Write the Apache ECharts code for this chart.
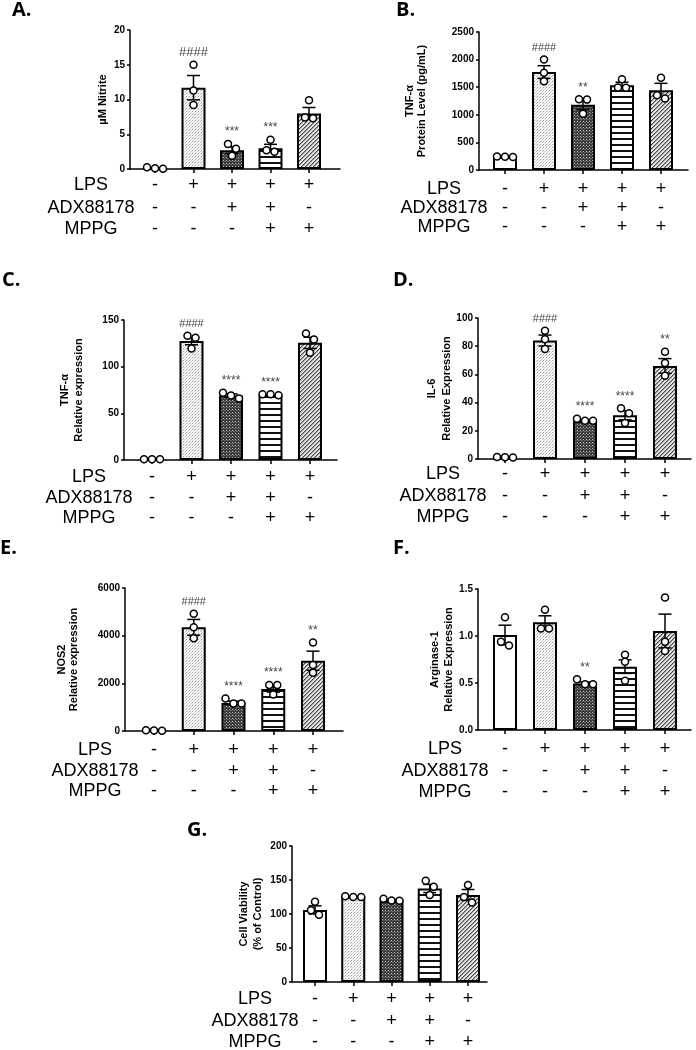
<!DOCTYPE html>
<html><head><meta charset="utf-8">
<script src="https://cdn.jsdelivr.net/npm/echarts@6/dist/echarts.min.js"></script>
<style>html,body{margin:0;padding:0;background:#fff}#c{width:696px;height:1050px}</style>
</head><body><div id="c"></div>
<script>
// ---------- DATA ----------
const rowNames = ['LPS', 'ADX88178', 'MPPG'];
const lpsRow  = ['-', '+', '+', '+', '+'];
const adxRow  = ['-', '-', '+', '+', '-'];
const mppgRow = ['-', '-', '-', '+', '+'];

const panelLabels = ['A.', 'B.', 'C.', 'D.', 'E.', 'F.', 'G.'];
const yNames = ['\u00b5M Nitrite', 'TNF-\u03b1\nProtein Level (pg/mL)', 'TNF-\u03b1\nRelative expression',
  'IL-6\nRelative Expression', 'NOS2\nRelative expression', 'Arginase-1\nRelative Expression',
  'Cell Viability\n(% of Control)'];

const aTicks = [0, 5, 10, 15, 20];
const aMeans = [0.1, 11.7, 2.7, 3.0, 8.0];
const aSem   = [0.05, 1.75, 0.5, 0.55, 0.85];
const aPts   = [[0.25, 0.1, 0.05], [15.0, 11.3, 9.2], [3.6, 2.9, 1.9], [4.2, 2.7, 2.5], [9.9, 7.3, 7.4]];
const aSig   = ['', '####', '***', '***', ''];

const bTicks = [0, 500, 1000, 1500, 2000, 2500];
const bMeans = [240, 1775, 1180, 1535, 1445];
const bSem   = [5, 115, 85, 55, 125];
const bPts   = [[245, 235, 240], [2000, 1760, 1610], [1280, 1275, 1020], [1645, 1495, 1490], [1670, 1355, 1295]];
const bSig   = ['', '####', '**', '', ''];

const cTicks = [0, 50, 100, 150];
const cMeans = [1, 127.5, 69, 69, 125.5];
const cSem   = [0.2, 4, 1.8, 0.5, 6];
const cPts   = [[0.8, 0.7, 0.9], [133, 131, 119.5], [72, 69, 66], [70.5, 69.5, 70.5], [135.5, 129, 115]];
const cSig   = ['', '####', '****', '****', ''];

const dTicks = [0, 20, 40, 60, 80, 100];
const dMeans = [1, 84, 27.2, 31, 66];
const dSem   = [0.2, 3.9, 0.4, 3.2, 5.2];
const dPts   = [[1.4, 1.0, 1.2], [91, 85, 78], [28.5, 27.2, 27.2], [36, 32.5, 25.5], [76, 68, 59]];
const dSig   = ['', '####', '****', '****', '**'];

const eTicks = [0, 2000, 4000, 6000];
const eMeans = [20, 4350, 1180, 1760, 2950];
const eSem   = [5, 330, 70, 130, 400];
const ePts   = [[30, 20, 10], [4920, 4350, 3890], [1360, 1150, 1150], [1925, 1925, 1530], [3710, 2770, 2445]];
const eSig   = ['', '####', '****', '****', '**'];

const fTicks = [0, 0.5, 1.0, 1.5];
const fMeans = [1.01, 1.145, 0.496, 0.674, 1.053];
const fSem   = [0.105, 0.07, 0.015, 0.072, 0.18];
const fPts   = [[1.2, 0.94, 0.9], [1.28, 1.08, 1.08], [0.54, 0.486, 0.486], [0.8, 0.727, 0.525], [1.41, 0.94, 0.84]];
const fSig   = ['', '', '**', '', ''];

const gTicks = [0, 50, 100, 150, 200];
const gMeans = [106, 125.5, 119.5, 137.5, 128];
const gSem   = [6, 0.5, 1.2, 6, 8];
const gPts   = [[118, 105.5, 99], [126, 125, 125], [122.5, 119.5, 120], [149, 140, 128], [142.5, 125, 117]];
const gSig   = ['', '', '', '', ''];

// ---------- LAYOUT (pixels) ----------
const layouts = [
  {ax:130, top:30,  zero:169, right:340, c0:155, c4:309, tl:[12,0],   gap:21, lh:12, labX:91,  rows:[16,39,60], hash:13},
  {ax:479, top:32,  zero:170, right:688, c0:505, c4:661, tl:[396,0],  gap:51, lh:12, labX:444, rows:[19,38,57], hash:11},
  {ax:124, top:320, zero:460, right:337, c0:152, c4:310, tl:[2,270],  gap:38, lh:14, labX:89,  rows:[17,38,58], hash:11},
  {ax:478, top:318, zero:459, right:691, c0:505, c4:665, tl:[393,270],gap:24, lh:15, labX:443, rows:[15,37,58], hash:11},
  {ax:125, top:588, zero:731, right:343, c0:154, c4:313, tl:[0,538],  gap:45, lh:12, labX:95,  rows:[19,40,60], hash:11},
  {ax:478, top:589, zero:730, right:691, c0:505, c4:665, tl:[393,538],gap:22, lh:14, labX:445, rows:[19,41,62], hash:11},
  {ax:292, top:846, zero:982, right:487, c0:315, c4:468, tl:[187,820],gap:27, lh:14, labX:255, rows:[17,39,60], hash:11}
];

const panels = [
  {means:aMeans, sem:aSem, pts:aPts, sig:aSig, ticks:aTicks},
  {means:bMeans, sem:bSem, pts:bPts, sig:bSig, ticks:bTicks},
  {means:cMeans, sem:cSem, pts:cPts, sig:cSig, ticks:cTicks},
  {means:dMeans, sem:dSem, pts:dPts, sig:dSig, ticks:dTicks},
  {means:eMeans, sem:eSem, pts:ePts, sig:eSig, ticks:eTicks},
  {means:fMeans, sem:fSem, pts:fPts, sig:fSig, ticks:fTicks, dec:1},
  {means:gMeans, sem:gSem, pts:gPts, sig:gSig, ticks:gTicks}
];

// ---------- PATTERNS ----------
function makePattern(w, h, draw) {
  const c = document.createElement('canvas'); c.width = w; c.height = h;
  const g = c.getContext('2d'); draw(g);
  return {image: c, repeat: 'repeat'};
}
function px(g, x, y, col) { g.fillStyle = col; g.fillRect(x, y, 1, 1); }
const fills = [
  '#ffffff',
  makePattern(3, 3, g => { g.fillStyle = '#fafafa'; g.fillRect(0,0,3,3); px(g,0,0,'#9a9a9a'); px(g,2,1,'#c4c4c4'); px(g,1,2,'#d8d8d8'); }),
  makePattern(3, 3, g => { g.fillStyle = '#3a3a3a'; g.fillRect(0,0,3,3); px(g,1,1,'#b8b8b8'); px(g,2,2,'#707070'); px(g,0,2,'#5a5a5a'); }),
  makePattern(1, 6, g => { g.fillStyle = '#ffffff'; g.fillRect(0,0,1,6); g.fillStyle = '#111'; g.fillRect(0,0,1,2); }),
  makePattern(4, 4, g => { g.fillStyle = '#e6e6e6'; g.fillRect(0,0,4,4);
    for (let k = 0; k < 4; k++) { px(g, k, 3-k, '#4a4a4a'); px(g, (k+1)%4, 3-k, '#9a9a9a'); } })
];

const FF = '"Liberation Sans", Arial, sans-serif';
const rowArrays = [lpsRow, adxRow, mppgRow];

const option = {animation:false, backgroundColor:'#fff', title:[], grid:[], xAxis:[], yAxis:[], series:[]};

panels.forEach((p, pi) => {
  const L = layouts[pi];
  const s = (L.c4 - L.c0) / 4;
  const xmin = -(L.c0 - L.ax) / s, xmax = 4 + (L.right - L.c4) / s;
  const t = p.ticks;

  option.title.push({text: panelLabels[pi], left: L.tl[0], top: L.tl[1], padding: 0,
    textStyle: {fontFamily: '"Open Sans", sans-serif', fontWeight: 'bold', fontSize: 20, color: '#000'}});

  // main plotting grid
  const gi = option.grid.length;
  option.grid.push({left: L.ax, top: L.top, width: L.right - L.ax, height: L.zero - L.top,
    containLabel: false, outerBoundsMode: 'none'});
  const xi = option.xAxis.length;
  option.xAxis.push({type:'value', gridIndex:gi, min:xmin, max:xmax, position:'bottom',
    axisLine:{show:true, onZero:false, lineStyle:{color:'#000', width:1.5}},
    axisTick:{show:true, customValues:[0,1,2,3,4], length:4, lineStyle:{color:'#000', width:1.5}},
    axisLabel:{show:false}, splitLine:{show:false}, minorSplitLine:{show:false}});
  const yi = option.yAxis.length;
  option.yAxis.push({type:'value', gridIndex:gi, min:t[0], max:t[t.length-1], interval:t[1]-t[0], position:'left',
    axisLine:{show:true, onZero:false, lineStyle:{color:'#000', width:1.5}},
    axisTick:{show:true, length:3, lineStyle:{color:'#000', width:1.5}},
    axisLabel:{fontSize:10, fontWeight:'bold', color:'#000', margin:5, fontFamily:FF,
      formatter:(v) => p.dec ? v.toFixed(p.dec) : String(v)},
    splitLine:{show:false},
    name: yNames[pi], nameLocation:'middle', nameRotate:90, nameGap:L.gap, nameMoveOverlap:false,
    nameTextStyle:{fontSize:11, fontWeight:'bold', color:'#000', fontFamily:FF, lineHeight:L.lh}});

  // treatment table grid (same x scale, extended to the left for the row names)
  const tLeft = L.labX - 60;
  const tg = option.grid.length;
  option.grid.push({left: tLeft, top: L.zero - 1, width: L.right - tLeft, height: 1,
    containLabel: false, outerBoundsMode: 'none'});
  const tmin = xmin - (L.ax - tLeft) / s;
  const labVal = -(L.c0 - L.labX) / s;
  option.yAxis.push({type:'value', gridIndex:tg, show:false, min:0, max:1,
    axisLine:{show:false, onZero:false}, splitLine:{show:false}});
  rowArrays.forEach((arr, k) => {
    option.xAxis.push({type:'value', gridIndex:tg, min:tmin, max:xmax, position:'bottom', offset:L.rows[k],
      axisLine:{show:false, onZero:false}, axisTick:{show:false}, splitLine:{show:false},
      axisLabel:{show:true, customValues:[labVal,0,1,2,3,4], hideOverlap:false,
        formatter:(v) => v < -0.8 ? rowNames[k] : arr[Math.round(v)],
        margin:0, verticalAlign:'middle', align:'center', fontSize:18, color:'#000', fontFamily:FF}});
  });

  option.series.push({type:'bar', xAxisIndex:xi, yAxisIndex:yi, barWidth:24, z:2,
    itemStyle:{borderColor:'#000', borderWidth:2},
    data: p.means.map((m, i) => ({value:[i, m], itemStyle:{color: fills[i]}}))});

  option.series.push({type:'custom', xAxisIndex:xi, yAxisIndex:yi, z:5, clip:false,
    data: p.means.map((m, i) => [i, m, p.sem[i], p.pts[i][0], p.pts[i][1], p.pts[i][2]]),
    encode:{x:0, y:1},
    renderItem: (params, api) => {
      const i = api.value(0), m = api.value(1), e = api.value(2);
      const top = api.coord([i, m + e]);
      const bot = api.coord([i, Math.max(m - e, 0)]);
      const cap = 6.5, lw = 1.5;
      const ls = {stroke:'#000', lineWidth:lw};
      const ch = [
        {type:'line', shape:{x1:top[0], y1:top[1], x2:bot[0], y2:bot[1]}, style:ls},
        {type:'line', shape:{x1:top[0]-cap, y1:top[1], x2:top[0]+cap, y2:top[1]}, style:ls},
        {type:'line', shape:{x1:bot[0]-cap, y1:bot[1], x2:bot[0]+cap, y2:bot[1]}, style:ls}
      ];
      const vals = [api.value(3), api.value(4), api.value(5)];
      const ys = vals.map(v => api.coord([i, v])[1]);
      const r = 3.5, d = 8;
      const order = [0, 1, 2].sort((a, b) => ys[a] - ys[b]);
      const clusters = []; let cur = [order[0]];
      for (let k = 1; k < order.length; k++) {
        if (ys[order[k]] - ys[cur[cur.length-1]] < d * 0.85) cur.push(order[k]);
        else { clusters.push(cur); cur = [order[k]]; }
      }
      clusters.push(cur);
      clusters.forEach(cl => {
        cl.forEach((idx, j) => {
          const dx = (j - (cl.length - 1) / 2) * d;
          ch.push({type:'circle', shape:{cx: top[0] + dx, cy: ys[idx], r: r},
            style:{fill:'#fff', stroke:'#000', lineWidth:1.5}, z2:10});
        });
      });
      const sig = p.sig[params.dataIndex];
      if (sig) {
        const yTop = Math.min(Math.min.apply(null, ys), top[1]);
        const isHash = sig.charAt(0) === '#';
        ch.push({type:'text', style:{text:sig, x:top[0], y:yTop - 12, align:'center', verticalAlign:'middle',
          fontSize: isHash ? L.hash : 12, fontFamily:FF, fill:'#444'}, z2:11});
      }
      return {type:'group', children:ch};
    }});
});

const chart = echarts.init(document.getElementById('c'), null, {renderer:'canvas'});
chart.setOption(option);
</script>
</body></html>
